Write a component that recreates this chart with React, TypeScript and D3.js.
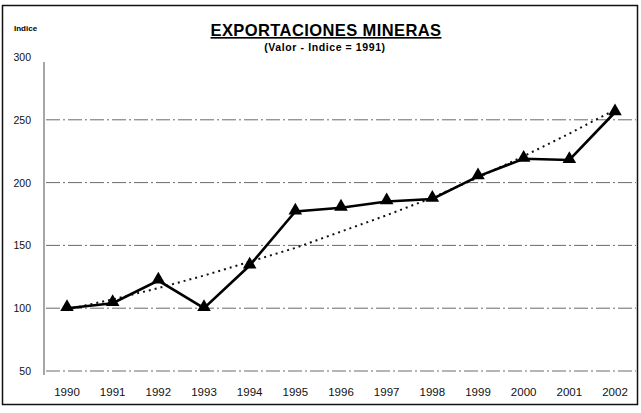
import React, { useEffect, useRef } from 'react';
import * as d3 from 'd3';

const years = ['1990', '1991', '1992', '1993', '1994', '1995', '1996', '1997', '1998', '1999', '2000', '2001', '2002'];
const indexValues = [100, 104, 122, 100, 134, 177, 180, 185, 187, 205, 219, 218, 256];
const trendValues = [99, 107, 116, 126, 137, 148, 161, 174, 188, 204, 221, 239, 258];
const yTicks = [50, 100, 150, 200, 250, 300];
const gridTicks = [50, 100, 150, 200, 250];

const W = 641;
const H = 413;

export default function App() {
  const svgRef = useRef<SVGSVGElement>(null);

  useEffect(() => {
    if (!svgRef.current) return;
    const svg = d3.select(svgRef.current);
    svg.selectAll('*').remove();

    const font = 'Liberation Sans, Arial, sans-serif';

    const x = d3.scalePoint<string>()
      .domain(years)
      .range([67, 615]);

    const y = d3.scaleLinear()
      .domain([50, 300])
      .range([371, 57]);

    // frame
    svg.append('rect')
      .attr('x', 2.5)
      .attr('y', 5.5)
      .attr('width', 635)
      .attr('height', 399)
      .attr('fill', 'white')
      .attr('stroke', '#111')
      .attr('stroke-width', 1.5);

    // grid lines (dash-dot)
    svg.append('g')
      .selectAll('line')
      .data(gridTicks)
      .join('line')
      .attr('x1', 46)
      .attr('x2', 636)
      .attr('y1', d => y(d))
      .attr('y2', d => y(d))
      .attr('stroke', '#444')
      .attr('stroke-width', 0.8)
      .attr('stroke-dasharray', '14,3,2,3');

    // y axis
    svg.append('line')
      .attr('x1', 44)
      .attr('x2', 44)
      .attr('y1', y(300) + 5)
      .attr('y2', y(50) + 4)
      .attr('stroke', '#222')
      .attr('stroke-width', 0.8);

    svg.append('g')
      .selectAll('text')
      .data(yTicks)
      .join('text')
      .attr('x', 31)
      .attr('y', d => y(d) + 4)
      .attr('text-anchor', 'end')
      .attr('font-family', font)
      .attr('font-size', 10.5)
      .attr('fill', '#111')
      .text(d => d);

    // x labels
    svg.append('g')
      .selectAll('text')
      .data(years)
      .join('text')
      .attr('x', d => x(d)!)
      .attr('y', 396)
      .attr('text-anchor', 'middle')
      .attr('font-family', font)
      .attr('font-size', 11.5)
      .attr('fill', '#111')
      .text(d => d);

    // trend (dotted)
    const line = d3.line<number>()
      .x((_, i) => x(years[i])!)
      .y(d => y(d));

    svg.append('path')
      .datum(trendValues)
      .attr('d', line)
      .attr('fill', 'none')
      .attr('stroke', '#111')
      .attr('stroke-width', 2)
      .attr('stroke-dasharray', '2,4');

    // main series
    svg.append('path')
      .datum(indexValues)
      .attr('d', line)
      .attr('fill', 'none')
      .attr('stroke', '#000')
      .attr('stroke-width', 2.6);

    const tri = d3.symbol().type(d3.symbolTriangle).size(80);
    svg.append('g')
      .selectAll('path')
      .data(indexValues)
      .join('path')
      .attr('d', tri)
      .attr('transform', (d, i) => `translate(${x(years[i])},${y(d) - 1})`)
      .attr('fill', '#000');

    // titles
    svg.append('text')
      .attr('x', 326)
      .attr('y', 36)
      .attr('text-anchor', 'middle')
      .attr('font-family', font)
      .attr('font-weight', 'bold')
      .attr('font-size', 16.5)
      .attr('letter-spacing', 0.4)
      .attr('text-decoration', 'underline')
      .attr('fill', '#000')
      .text('EXPORTACIONES MINERAS');

    svg.append('text')
      .attr('x', 325)
      .attr('y', 51)
      .attr('text-anchor', 'middle')
      .attr('font-family', font)
      .attr('font-weight', 'bold')
      .attr('font-size', 10.5)
      .attr('letter-spacing', 0.6)
      .attr('fill', '#000')
      .text('(Valor - Indice = 1991)');

    svg.append('text')
      .attr('x', 14)
      .attr('y', 31)
      .attr('font-family', font)
      .attr('font-weight', 'bold')
      .attr('font-size', 8)
      .attr('fill', '#000')
      .text('Indice');
  }, []);

  return (
    <svg
      ref={svgRef}
      width={W}
      height={H}
      style={{ position: 'absolute', left: 0, top: 0, background: 'white' }}
    />
  );
}
